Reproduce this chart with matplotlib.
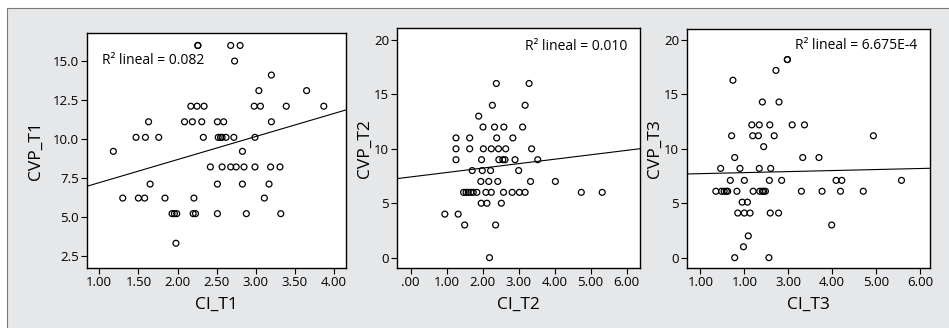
import numpy as np
import matplotlib
matplotlib.use('Agg')
import matplotlib.pyplot as plt
from matplotlib.patches import Rectangle

plt.rcParams['font.family'] = ['Open Sans', 'DejaVu Sans']

# ---- data (CI vs CVP at three time points) ----
ci_t1 = [2.26, 2.26, 2.68, 2.80,
         2.73,
         3.20,
         3.04, 3.65,
         2.17, 2.25, 2.34, 2.98, 3.06, 3.39, 3.87,
         1.63, 2.09, 2.19, 2.31, 2.51, 2.59, 3.20,
         1.47, 1.59, 1.76, 2.33, 2.52, 2.55, 2.57, 2.62, 2.72, 2.99,
         1.18, 2.83,
         2.42, 2.57, 2.68, 2.75, 2.85, 2.99, 3.19, 3.31,
         1.65, 2.51, 2.83, 3.17,
         1.30, 1.50, 1.58, 1.84, 2.21, 3.11,
         1.93, 1.96, 1.99, 2.20, 2.23, 2.51, 2.88, 3.32,
         1.98]
cvp_t1 = [16.0, 16.0, 16.0, 16.0,
          15.0,
          14.1,
          13.1, 13.1,
          12.1, 12.1, 12.1, 12.1, 12.1, 12.1, 12.1,
          11.1, 11.1, 11.1, 11.1, 11.1, 11.1, 11.1,
          10.1, 10.1, 10.1, 10.1, 10.1, 10.1, 10.1, 10.1, 10.1, 10.1,
          9.2, 9.2,
          8.2, 8.2, 8.2, 8.2, 8.2, 8.2, 8.2, 8.2,
          7.1, 7.1, 7.1, 7.1,
          6.2, 6.2, 6.2, 6.2, 6.2, 6.2,
          5.2, 5.2, 5.2, 5.2, 5.2, 5.2, 5.2, 5.2,
          3.3]

ci_t2 = [2.38, 3.29,
         2.27, 3.18,
         1.89,
         2.01, 2.33, 2.59, 3.11,
         1.26, 1.64, 2.39, 2.84,
         1.26, 1.64, 2.02, 2.24, 2.44, 2.64, 3.36,
         1.26, 1.97, 2.45, 2.56, 2.62, 2.90, 3.53,
         1.71, 1.99, 2.22, 3.00,
         1.95, 2.17, 2.42, 3.33, 4.02,
         1.47, 1.54, 1.60, 1.67, 1.74, 1.84, 2.09, 2.24, 2.58, 2.82, 3.02, 3.18, 4.74, 5.32,
         1.96, 2.12, 2.52,
         0.95, 1.32,
         1.50, 2.36,
         2.19]
cvp_t2 = [16, 16,
          14, 14,
          13,
          12, 12, 12, 12,
          11, 11, 11, 11,
          10, 10, 10, 10, 10, 10, 10,
          9, 9, 9, 9, 9, 9, 9,
          8, 8, 8, 8,
          7, 7, 7, 7, 7,
          6, 6, 6, 6, 6, 6, 6, 6, 6, 6, 6, 6, 6, 6,
          5, 5, 5,
          4, 4,
          3, 3,
          0]

ci_t3 = [2.98, 2.98,
         2.72,
         1.74,
         2.41, 2.79,
         2.17, 2.34, 2.58, 3.09, 3.37,
         1.71, 2.19, 2.32, 2.68, 4.94,
         2.44,
         1.78, 3.33, 3.70,
         1.46, 1.90, 2.34, 2.60,
         1.68, 2.00, 2.57, 2.85, 4.09, 4.22, 5.58,
         1.35, 1.48, 1.54, 1.59, 1.62, 1.83, 2.20, 2.35, 2.41, 2.44, 2.48, 3.30, 3.77, 4.19, 4.71,
         1.95, 2.07,
         1.85, 2.00, 2.13, 2.59, 2.78,
         3.99,
         2.09,
         1.98,
         1.78, 2.56]
cvp_t3 = [18.2, 18.2,
          17.2,
          16.3,
          14.3, 14.3,
          12.2, 12.2, 12.2, 12.2, 12.2,
          11.2, 11.2, 11.2, 11.2, 11.2,
          10.2,
          9.2, 9.2, 9.2,
          8.2, 8.2, 8.2, 8.2,
          7.1, 7.1, 7.1, 7.1, 7.1, 7.1, 7.1,
          6.1, 6.1, 6.1, 6.1, 6.1, 6.1, 6.1, 6.1, 6.1, 6.1, 6.1, 6.1, 6.1, 6.1, 6.1,
          5.1, 5.1,
          4.1, 4.1, 4.1, 4.1, 4.1,
          3.0,
          2.0,
          1.0,
          0.0, 0.0]

# fit lines as drawn in the source (intercept, slope)
fit_t1 = (5.71, 1.481)
fit_t2 = (7.415, 0.407)
fit_t3 = (7.624, 0.0944)

r2_labels = ['0.082', '0.010', '6.675E-4']
x_names = ['CI_T1', 'CI_T2', 'CI_T3']
y_names = ['CVP_T1', 'CVP_T2', 'CVP_T3']

xticks_t1 = [1.0, 1.5, 2.0, 2.5, 3.0, 3.5, 4.0]
xticklabels_t1 = ['1.00', '1.50', '2.00', '2.50', '3.00', '3.50', '4.00']
yticks_t1 = [2.5, 5.0, 7.5, 10.0, 12.5, 15.0]
yticklabels_t1 = ['2.5', '5.0', '7.5', '10.0', '12.5', '15.0']
xticks_t2 = [0, 1, 2, 3, 4, 5, 6]
xticklabels_t2 = ['.00', '1.00', '2.00', '3.00', '4.00', '5.00', '6.00']
xticks_t3 = [1, 2, 3, 4, 5, 6]
xticklabels_t3 = ['1.00', '1.00', '3.00', '4.00', '5.00', '6.00']  # as printed in source
yticks_t23 = [0, 5, 10, 15, 20]
yticklabels_t23 = ['0', '5', '10', '15', '20']


W, H = 949, 328
fig = plt.figure(figsize=(W / 100, H / 100), dpi=100)
fig.patch.set_facecolor('white')

# grey panel behind the three plots (only top/left edges visible)
bg = fig.add_axes([0, 0, 1, 1], zorder=-5)
bg.set_xlim(0, W)
bg.set_ylim(H, 0)
bg.axis('off')
bg.add_patch(Rectangle((7.5, 7.5), W + 20, H + 20, facecolor='#e6e7e9',
                       edgecolor='#7a7a7a', linewidth=0.8))

def px_axes(left, top, right, bottom):
    return fig.add_axes([left / W, 1 - bottom / H, (right - left) / W, (bottom - top) / H])

panels = [
    dict(ax=px_axes(87.3, 32.7, 345.7, 268), x=ci_t1, y=cvp_t1, fit=fit_t1,
         xlim=(0.847, 4.15), ylim=(1.71, 16.82),
         xt=(xticks_t1, xticklabels_t1), yt=(yticks_t1, yticklabels_t1),
         r2pos=(0.057, 0.88, 'left'), ylab=-0.201, xlab=-0.157),
    dict(ax=px_axes(397.3, 28.3, 640, 268), x=ci_t2, y=cvp_t2, fit=fit_t2,
         xlim=(-0.37, 6.37), ylim=(-0.95, 21.07),
         xt=(xticks_t2, xticklabels_t2), yt=(yticks_t23, yticklabels_t23),
         r2pos=(0.946, 0.926, 'right'), ylab=-0.132, xlab=-0.154),
    dict(ax=px_axes(687.3, 29.3, 930, 268), x=ci_t3, y=cvp_t3, fit=fit_t3,
         xlim=(0.70, 6.23), ylim=(-0.95, 20.98),
         xt=(xticks_t3, xticklabels_t3), yt=(yticks_t23, yticklabels_t23),
         r2pos=(0.946, 0.934, 'right'), ylab=-0.132, xlab=-0.155),
]

for i, p in enumerate(panels):
    ax = p['ax']
    ax.set_facecolor('white')
    ax.scatter(p['x'], p['y'], s=18, facecolors='none', edgecolors='black',
               linewidths=0.9, zorder=3)

    # linear fit line across the whole x range
    intercept, slope = p['fit']
    xs = np.array(p['xlim'])
    ax.plot(xs, intercept + slope * xs, color='black', linewidth=0.8, zorder=2)

    ax.set_xlim(*p['xlim'])
    ax.set_ylim(*p['ylim'])
    ax.set_xticks(p['xt'][0])
    ax.set_xticklabels(p['xt'][1])
    ax.set_yticks(p['yt'][0])
    ax.set_yticklabels(p['yt'][1])
    ax.tick_params(direction='out', length=4, width=0.8, labelsize=9.5, pad=2, colors='black')
    for sp in ax.spines.values():
        sp.set_linewidth(1.0)
        sp.set_color('black')

    ax.set_xlabel(x_names[i], fontsize=12.5)
    ax.set_ylabel(y_names[i], fontsize=12.5)
    ax.xaxis.set_label_coords(0.5, p['xlab'])
    ax.yaxis.set_label_coords(p['ylab'], 0.5)
    ax.xaxis.label.set_va('center')
    ax.yaxis.label.set_va('center')

    rx, ry, ha = p['r2pos']
    ax.text(rx, ry, 'R² lineal = ' + r2_labels[i], transform=ax.transAxes,
            ha=ha, va='center', fontsize=10)

fig.savefig('out.png', dpi=100)
